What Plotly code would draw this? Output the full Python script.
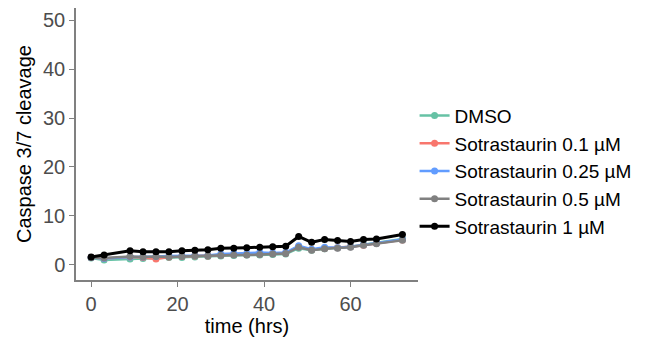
import plotly.graph_objects as go

time = [0, 3, 9, 12, 15, 18, 21, 24, 27, 30, 33, 36, 39, 42, 45, 48, 51, 54, 57, 60, 63, 66, 72]

dmso = [1.4, 1.0, 1.2, 1.3, 1.4, 1.5, 1.5, 1.6, 1.7, 1.8, 1.9, 2.0, 2.0, 2.1, 2.2, 3.4, 3.0, 3.3, 3.5, 3.7, 4.1, 4.5, 5.3]
sot01 = [1.5, 1.3, 1.6, 1.5, 1.2, 1.6, 1.7, 1.8, 1.8, 2.0, 2.1, 2.1, 2.2, 2.3, 2.4, 3.7, 3.1, 3.4, 3.5, 3.7, 4.0, 4.4, 5.1]
sot025 = [1.5, 1.3, 1.6, 1.6, 1.7, 1.8, 1.8, 1.9, 1.9, 2.2, 2.3, 2.3, 2.5, 2.4, 2.5, 3.9, 3.2, 3.6, 3.5, 3.7, 4.1, 4.4, 5.2]
sot05 = [1.5, 1.4, 1.7, 1.6, 1.7, 1.6, 1.7, 1.8, 1.8, 1.9, 2.0, 2.0, 2.1, 2.2, 2.3, 3.6, 3.0, 3.3, 3.4, 3.6, 4.0, 4.3, 5.0]
sot1 = [1.6, 2.0, 2.9, 2.7, 2.7, 2.7, 2.9, 3.0, 3.1, 3.4, 3.4, 3.5, 3.6, 3.7, 3.8, 5.8, 4.6, 5.2, 4.95, 4.75, 5.2, 5.3, 6.2]

names = ["DMSO", "Sotrastaurin 0.1 µM", "Sotrastaurin 0.25 µM", "Sotrastaurin 0.5 µM", "Sotrastaurin 1 µM"]
series = [dmso, sot01, sot025, sot05, sot1]
colors = ["#66c2a5", "#f8766d", "#619cff", "#808080", "#000000"]
widths = [2.5, 2.5, 2.5, 2.5, 3]

fig = go.Figure()
for n, s, c, w in zip(names, series, colors, widths):
    fig.add_trace(go.Scatter(x=time, y=s, name=n, mode="lines+markers",
                             line=dict(color=c, width=w),
                             marker=dict(color=c, size=7)))

fig.update_layout(
    width=657, height=337,
    margin=dict(l=76, r=239, t=8, b=44),
    paper_bgcolor="white", plot_bgcolor="white",
    font=dict(family="Arial, Liberation Sans, sans-serif", size=20, color="black"),
    legend=dict(x=0.99, y=0.40, xanchor="left", yanchor="middle",
                font=dict(size=19, color="black"), tracegroupgap=0,
                itemwidth=30),
    showlegend=True,
)
fig.update_xaxes(range=[-3.5, 75.6], tickvals=[0, 20, 40, 60], showgrid=False, zeroline=False,
                 showline=True, linecolor="#808080", linewidth=1.5,
                 ticks="outside", ticklen=5, tickcolor="#808080",
                 tickfont=dict(size=20, color="#4d4d4d"),
                 title=dict(text="time (hrs)", font=dict(size=20, color="black"), standoff=0))
fig.update_yaxes(range=[-3.1, 52.5], tickvals=[0, 10, 20, 30, 40, 50], showgrid=False, zeroline=False,
                 showline=True, linecolor="#808080", linewidth=1.5,
                 ticks="outside", ticklen=5, tickcolor="#808080",
                 tickfont=dict(size=20, color="#4d4d4d"),
                 title=dict(text="Caspase 3/7 cleavage", font=dict(size=20, color="black"), standoff=6))

fig.write_html("out.html")
